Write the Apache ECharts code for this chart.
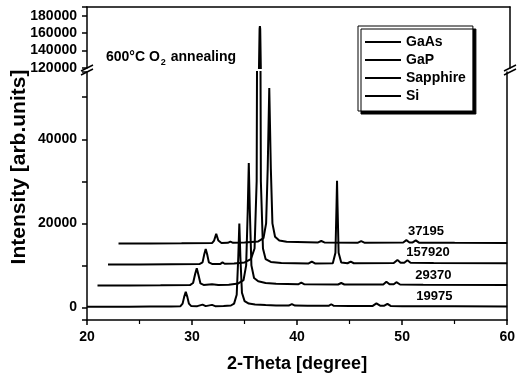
<!DOCTYPE html>
<html>
<head>
<meta charset="utf-8">
<script src="https://cdn.jsdelivr.net/npm/echarts@6/dist/echarts.min.js"></script>
<style>
html, body { margin: 0; padding: 0; background: #fff; }
#main { width: 518px; height: 378px; }
</style>
</head>
<body>
<div id="main"></div>
<script>
// traces, top to bottom on the plot
var names = ['GaAs', 'GaP', 'Sapphire', 'Si'];
var offsets = [15000, 10000, 5000, 0];
var peakLabels = ['37195', '157920', '29370', '19975'];
var labelX = [50.5, 50.35, 51.2, 51.3];
var labelLift = [3000, 3000, 2650, 2650];

// [2-theta, intensity] (without offset)
var gaas = [
    [23, 200], [26, 220], [29, 250], [31.9, 300], [32.1, 900], [32.3, 2500], [32.5, 900], [32.8, 320],
    [33.4, 350], [33.65, 650], [33.9, 350], [35, 450], [36.3, 700], [36.8, 1500], [37.05, 5000],
    [37.2, 18000], [37.35, 37195], [37.5, 18000], [37.65, 5000], [37.9, 1800], [38.3, 900], [39, 600],
    [42.0, 450], [42.3, 800], [42.6, 450], [45.8, 400], [46.1, 750], [46.4, 400], [50.1, 450],
    [50.4, 1000], [50.7, 450], [51.0, 450], [51.3, 950], [51.6, 400], [55, 350], [60, 330]
];
var gap = [
    [22, 200], [25, 220], [28, 250], [30.7, 300], [31.0, 700], [31.15, 2500], [31.3, 3900], [31.45, 2500],
    [31.6, 700], [31.9, 350], [32.7, 350], [32.9, 700], [33.1, 380], [34, 450], [35, 700], [35.6, 1500],
    [35.95, 4000], [36.15, 20000], [36.25, 100000], [36.32, 155000], [36.35, 157920], [36.38, 155000],
    [36.45, 100000], [36.55, 20000], [36.75, 4000], [37.0, 1500], [37.5, 800], [38.5, 550], [41.1, 450],
    [41.4, 900], [41.7, 450], [43.4, 500], [43.65, 3000], [43.75, 14000], [43.8, 20100], [43.85, 14000],
    [43.95, 3000], [44.2, 700], [44.8, 500], [45.1, 900], [45.4, 500], [49.2, 550], [49.55, 1300],
    [49.85, 600], [50.2, 600], [50.5, 1200], [50.8, 600], [53, 550], [60, 500]
];
var sapphire = [
    [21, 200], [24, 220], [27, 250], [29.8, 300], [30.1, 800], [30.3, 3000], [30.45, 4300], [30.6, 2800],
    [30.8, 700], [31.1, 350], [31.9, 500], [32.5, 350], [33.5, 400], [34.4, 700], [34.9, 1500],
    [35.15, 5000], [35.3, 18000], [35.4, 29370], [35.5, 18000], [35.65, 5000], [35.9, 2000], [36.3, 1200],
    [37, 800], [38, 600], [40.1, 500], [40.4, 900], [40.7, 500], [43.9, 450], [44.2, 800], [44.5, 450],
    [48.2, 450], [48.5, 1100], [48.8, 500], [49.2, 500], [49.45, 1000], [49.8, 450], [52, 400], [60, 350]
];
var si = [
    [20, 150], [22, 160], [24, 180], [26, 200], [28, 220], [28.9, 300], [29.1, 900], [29.25, 2500],
    [29.4, 3700], [29.55, 2500], [29.7, 900], [29.9, 350], [30.5, 300], [31.0, 650], [31.3, 300],
    [31.9, 600], [32.2, 300], [33.0, 330], [33.7, 450], [34.0, 900], [34.25, 3000], [34.4, 12000],
    [34.5, 19975], [34.6, 12000], [34.75, 3500], [35.0, 1500], [35.4, 900], [36.0, 700], [37, 550],
    [38, 450], [39.2, 420], [39.5, 800], [39.8, 420], [41, 380], [43.0, 380], [43.25, 750], [43.5, 380],
    [45, 350], [47.2, 350], [47.55, 950], [47.9, 400], [48.3, 400], [48.6, 850], [48.9, 350], [50, 300],
    [55, 260], [60, 230]
];
var traces = [gaas, gap, sapphire, si];

var font = 'Liberation Sans, Arial, sans-serif';
var black = '#000';

function shifted(data, off) {
    return data.map(function (p) { return [p[0], p[1] + off]; });
}
function labelEvery20k(v) {
    return v % 20000 === 0 ? String(v) : '';
}

var series = [];
for (var i = 0; i < traces.length; i++) {
    var d = shifted(traces[i], offsets[i]);
    series.push({
        name: names[i], type: 'line', xAxisIndex: 0, yAxisIndex: 0,
        data: d, symbol: 'none', smooth: false, animation: false,
        lineStyle: { color: black, width: 2 }, itemStyle: { color: black },
        markPoint: {
            symbol: 'rect', symbolSize: 1, silent: true, animation: false,
            itemStyle: { color: 'rgba(0,0,0,0)' },
            label: {
                show: true, position: 'right', distance: 0, formatter: peakLabels[i],
                color: black, fontSize: 13, fontWeight: 'bold', fontFamily: font
            },
            data: [{ coord: [labelX[i], offsets[i] + labelLift[i]] }]
        }
    });
    // same trace in the upper (broken) part of the axis
    series.push({
        name: names[i], type: 'line', xAxisIndex: 1, yAxisIndex: 2,
        data: d, symbol: 'none', animation: false, silent: true,
        lineStyle: { color: black, width: 2 }, itemStyle: { color: black }
    });
}

var chart = echarts.init(document.getElementById('main'));
chart.setOption({
    backgroundColor: '#fff',
    animation: false,
    grid: [
        { left: 87, right: 8, top: 72, height: 250 },
        { left: 87, right: 8, top: 7, height: 61 }
    ],
    legend: {
        data: names, orient: 'vertical', left: 358, top: 26,
        icon: 'rect', itemWidth: 36, itemHeight: 2, itemGap: 4,
        padding: [9, 7, 8, 7],
        backgroundColor: '#fff', borderColor: black, borderWidth: 1,
        shadowColor: black, shadowOffsetX: 3, shadowOffsetY: 3, shadowBlur: 0,
        textStyle: { color: black, fontSize: 14, fontWeight: 'bold', fontFamily: font },
        selectedMode: false
    },
    xAxis: [
        {
            type: 'value', gridIndex: 0, min: 20, max: 60, interval: 10,
            name: '2-Theta [degree]', nameLocation: 'middle', nameGap: 35,
            nameTextStyle: { color: black, fontSize: 18, fontWeight: 'bold', fontFamily: font },
            axisLine: { show: true, onZero: false, lineStyle: { color: black, width: 1.5 } },
            axisTick: { show: true, inside: false, length: 5, lineStyle: { color: black, width: 1.5 } },
            minorTick: { show: true, splitNumber: 2, length: 4, lineStyle: { color: black, width: 1.2 } },
            axisLabel: { color: black, fontSize: 14, fontWeight: 'bold', fontFamily: font, margin: 10 },
            splitLine: { show: false }
        },
        {
            type: 'value', gridIndex: 1, min: 20, max: 60, position: 'top',
            axisLine: { show: true, onZero: false, lineStyle: { color: black, width: 1.5 } },
            axisTick: { show: false }, axisLabel: { show: false }, splitLine: { show: false }
        }
    ],
    yAxis: [
        {
            type: 'value', gridIndex: 0, min: -3000, max: 56000,
            axisLine: { show: true, onZero: false, lineStyle: { color: black, width: 1.5 } },
            axisTick: { show: true, inside: false, length: 5, lineStyle: { color: black, width: 1.5 } },
            axisLabel: { color: black, fontSize: 14, fontWeight: 'bold', fontFamily: font, margin: 10,
                formatter: labelEvery20k },
            splitLine: { show: false }
        },
        {
            type: 'value', gridIndex: 0, min: -3000, max: 56000, position: 'right',
            axisLine: { show: true, onZero: false, lineStyle: { color: black, width: 1.5 } },
            axisTick: { show: false }, axisLabel: { show: false }, splitLine: { show: false }
        },
        {
            type: 'value', gridIndex: 1, min: 120000, max: 190000, interval: 20000,
            axisLine: { show: true, onZero: false, lineStyle: { color: black, width: 1.5 } },
            axisTick: { show: true, inside: false, length: 5, lineStyle: { color: black, width: 1.5 } },
            axisLabel: { color: black, fontSize: 14, fontWeight: 'bold', fontFamily: font, margin: 10,
                formatter: labelEvery20k },
            splitLine: { show: false }
        },
        {
            type: 'value', gridIndex: 1, min: 120000, max: 190000, position: 'right',
            axisLine: { show: true, onZero: false, lineStyle: { color: black, width: 1.5 } },
            axisTick: { show: false }, axisLabel: { show: false }, splitLine: { show: false }
        }
    ],
    graphic: [
        {
            type: 'text', left: 106, top: 50,
            style: {
                text: '{a|600°C O}{s|2}{a| annealing}',
                rich: {
                    a: { fontSize: 14, fontWeight: 'bold', fontFamily: font, fill: black, verticalAlign: 'bottom' },
                    s: { fontSize: 9, fontWeight: 'bold', fontFamily: font, fill: black, verticalAlign: 'bottom', padding: [0, 1, -3, 1] }
                }
            }
        },
        {
            type: 'text', x: 19, y: 167, rotation: Math.PI / 2,
            style: {
                text: 'Intensity [arb.units]', fill: black, fontSize: 21, fontWeight: 'bold',
                fontFamily: font, align: 'center', verticalAlign: 'middle'
            }
        },
        // axis break marks
        { type: 'line', shape: { x1: 81, y1: 71, x2: 93, y2: 65 }, style: { stroke: black, lineWidth: 1.5 } },
        { type: 'line', shape: { x1: 81, y1: 75, x2: 93, y2: 69 }, style: { stroke: black, lineWidth: 1.5 } },
        { type: 'line', shape: { x1: 504, y1: 71, x2: 516, y2: 65 }, style: { stroke: black, lineWidth: 1.5 } },
        { type: 'line', shape: { x1: 504, y1: 75, x2: 516, y2: 69 }, style: { stroke: black, lineWidth: 1.5 } }
    ],
    series: series
});
</script>
</body>
</html>
